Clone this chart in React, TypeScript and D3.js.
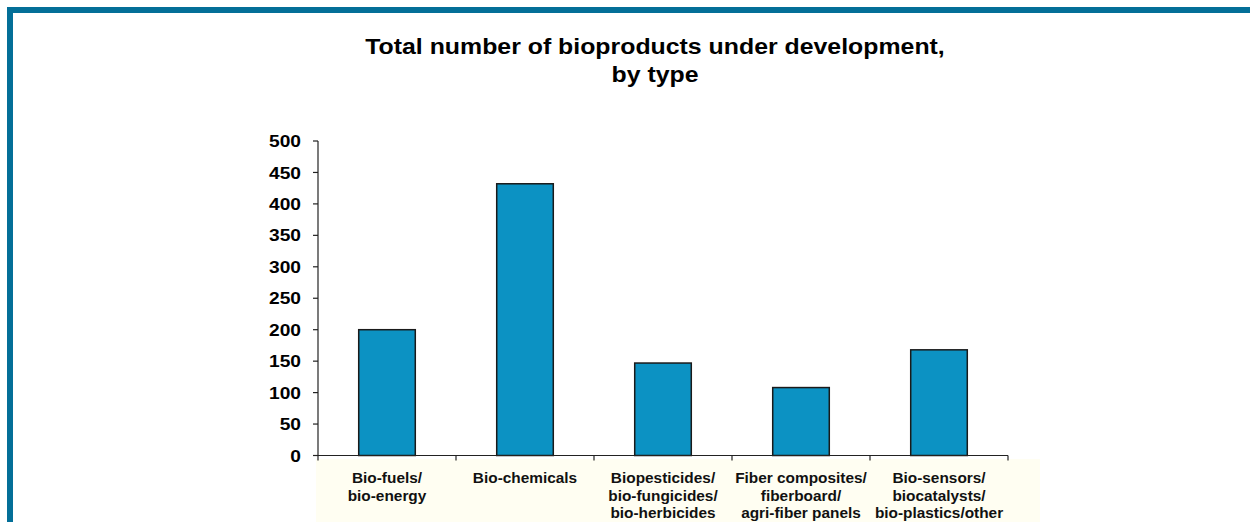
import React, { useEffect, useRef } from "react";
import * as d3 from "d3";

const categories: string[][] = [
  ["Bio-fuels/", "bio-energy"],
  ["Bio-chemicals"],
  ["Biopesticides/", "bio-fungicides/", "bio-herbicides"],
  ["Fiber composites/", "fiberboard/", "agri-fiber panels"],
  ["Bio-sensors/", "biocatalysts/", "bio-plastics/other"],
];
const values: number[] = [200, 432, 147, 108, 168];
const yTicks: number[] = [0, 50, 100, 150, 200, 250, 300, 350, 400, 450, 500];
const titleLines: string[] = ["Total number of bioproducts under development,", "by type"];

const W = 1250;
const H = 522;
const SX = 1.13;

export default function App() {
  const ref = useRef<SVGSVGElement | null>(null);

  useEffect(() => {
    const svg = d3.select(ref.current);
    svg.selectAll("*").remove();

    // frame
    svg.append("rect").attr("x", 7).attr("y", 7).attr("width", W - 7).attr("height", 6).attr("fill", "#036f98");
    svg.append("rect").attr("x", 7).attr("y", 7).attr("width", 6).attr("height", H - 7).attr("fill", "#036f98");

    // title
    svg.append("g")
      .selectAll("text")
      .data(titleLines)
      .join("text")
      .attr("transform", (_d, i) => `translate(655,${54 + i * 27.5}) scale(${SX},1)`)
      .attr("text-anchor", "middle")
      .attr("font-family", "Liberation Sans, Arial, sans-serif")
      .attr("font-weight", "bold")
      .attr("font-size", 22)
      .attr("fill", "#000")
      .text((d) => d);

    const x0 = 318, x1 = 1008;
    const y = d3.scaleLinear().domain([0, 500]).range([455.5, 141]);
    const idx = categories.map((_c, i) => String(i));
    const x = d3.scaleBand().domain(idx).range([x0, x1]).paddingInner(0.59).paddingOuter(0.295);
    const band = (x1 - x0) / categories.length;

    // label background
    svg.append("rect").attr("x", 316).attr("y", 459).attr("width", 724).attr("height", H - 459).attr("fill", "#fffef2");

    // bars
    svg.append("g")
      .selectAll("rect")
      .data(values)
      .join("rect")
      .attr("x", (_d, i) => x(String(i))!)
      .attr("y", (d) => y(d))
      .attr("width", x.bandwidth())
      .attr("height", (d) => y(0) - y(d))
      .attr("fill", "#0c92c3")
      .attr("stroke", "#1a1a1a")
      .attr("stroke-width", 1.5);

    // y axis
    const ya = svg.append("g");
    ya.append("line").attr("x1", x0).attr("x2", x0).attr("y1", y(500)).attr("y2", y(0)).attr("stroke", "#222").attr("stroke-width", 1.2);
    ya.selectAll("line.t")
      .data(yTicks)
      .join("line")
      .attr("class", "t")
      .attr("x1", x0 - 5)
      .attr("x2", x0)
      .attr("y1", (d) => y(d))
      .attr("y2", (d) => y(d))
      .attr("stroke", "#222")
      .attr("stroke-width", 1.2);
    ya.selectAll("text")
      .data(yTicks)
      .join("text")
      .attr("transform", (d) => `translate(301,${y(d)}) scale(${SX},1)`)
      .attr("dy", "0.36em")
      .attr("text-anchor", "end")
      .attr("font-family", "Liberation Sans, Arial, sans-serif")
      .attr("font-weight", "bold")
      .attr("font-size", 17)
      .attr("fill", "#000")
      .text((d) => String(d));

    // x axis
    const xa = svg.append("g");
    xa.append("line").attr("x1", x0).attr("x2", x1).attr("y1", y(0)).attr("y2", y(0)).attr("stroke", "#222").attr("stroke-width", 1.2);
    const bounds = d3.range(categories.length + 1).map((i) => x0 + i * band);
    xa.selectAll("line.t")
      .data(bounds)
      .join("line")
      .attr("class", "t")
      .attr("x1", (d) => d)
      .attr("x2", (d) => d)
      .attr("y1", y(0))
      .attr("y2", y(0) + 5)
      .attr("stroke", "#222")
      .attr("stroke-width", 1.2);

    const lg = svg.append("g");
    categories.forEach((lines, i) => {
      const cx = x(String(i))! + x.bandwidth() / 2;
      lg.append("g")
        .selectAll("text")
        .data(lines)
        .join("text")
        .attr("transform", (_d, j) => `translate(${cx},${483 + j * 17.5}) scale(1.1,1)`)
        .attr("text-anchor", "middle")
        .attr("font-family", "Liberation Sans Narrow, Arial Narrow, Liberation Sans, sans-serif")
        .attr("font-weight", "bold")
        .attr("font-size", 14)
        .attr("fill", "#111")
        .text((d) => d);
    });
  }, []);

  return (
    <svg
      ref={ref}
      width={W}
      height={H}
      style={{ position: "absolute", left: 0, top: 0, background: "#fff" }}
    />
  );
}
